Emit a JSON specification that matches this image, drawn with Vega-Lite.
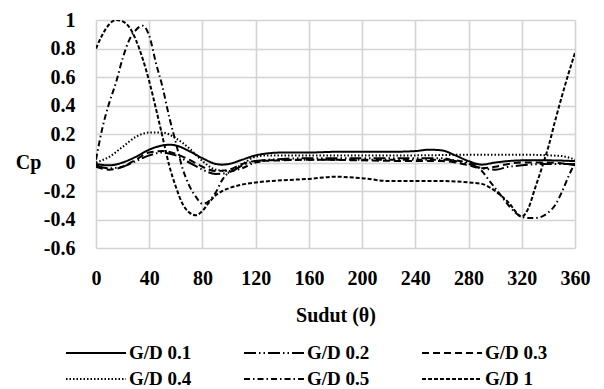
{
  "$schema": "https://vega.github.io/schema/vega-lite/v6.json",
  "width": 479,
  "height": 228,
  "autosize": "none",
  "padding": {"left": 96, "top": 20, "right": 29, "bottom": 141},
  "background": "white",
  "config": {
    "view": {"stroke": null},
    "font": "Liberation Serif",
    "axis": {"labelFont": "Liberation Serif", "titleFont": "Liberation Serif", "labelFontWeight": "bold", "titleFontWeight": "bold", "labelColor": "black", "titleColor": "black", "labelFontSize": 20, "titleFontSize": 20, "gridColor": "#d4d4d4", "gridWidth": 1.6, "domain": false, "ticks": false, "labelFlush": false, "labelOverlap": false},
    "legend": {"labelFont": "Liberation Serif", "labelFontWeight": "bold", "labelFontSize": 19, "labelColor": "black"}
  },
  "data": {"values": [
    {"s":"G/D 0.1","x":0,"y":-0.01},{"s":"G/D 0.1","x":10,"y":-0.02},{"s":"G/D 0.1","x":20,"y":0.0},{"s":"G/D 0.1","x":30,"y":0.04},{"s":"G/D 0.1","x":40,"y":0.09},{"s":"G/D 0.1","x":50,"y":0.12},{"s":"G/D 0.1","x":55,"y":0.125},{"s":"G/D 0.1","x":60,"y":0.12},{"s":"G/D 0.1","x":70,"y":0.08},{"s":"G/D 0.1","x":80,"y":0.03},{"s":"G/D 0.1","x":90,"y":-0.01},{"s":"G/D 0.1","x":95,"y":-0.015},{"s":"G/D 0.1","x":100,"y":-0.01},{"s":"G/D 0.1","x":110,"y":0.02},{"s":"G/D 0.1","x":120,"y":0.05},{"s":"G/D 0.1","x":130,"y":0.065},{"s":"G/D 0.1","x":140,"y":0.07},{"s":"G/D 0.1","x":160,"y":0.07},{"s":"G/D 0.1","x":180,"y":0.075},{"s":"G/D 0.1","x":200,"y":0.075},{"s":"G/D 0.1","x":220,"y":0.075},{"s":"G/D 0.1","x":240,"y":0.08},{"s":"G/D 0.1","x":250,"y":0.09},{"s":"G/D 0.1","x":260,"y":0.085},{"s":"G/D 0.1","x":270,"y":0.05},{"s":"G/D 0.1","x":280,"y":0.01},{"s":"G/D 0.1","x":290,"y":-0.015},{"s":"G/D 0.1","x":300,"y":0.0},{"s":"G/D 0.1","x":310,"y":0.01},{"s":"G/D 0.1","x":320,"y":0.015},{"s":"G/D 0.1","x":340,"y":0.015},{"s":"G/D 0.1","x":360,"y":0.01},

    {"s":"G/D 0.2","x":0,"y":-0.02},{"s":"G/D 0.2","x":10,"y":-0.04},{"s":"G/D 0.2","x":20,"y":-0.03},{"s":"G/D 0.2","x":30,"y":0.01},{"s":"G/D 0.2","x":40,"y":0.05},{"s":"G/D 0.2","x":50,"y":0.07},{"s":"G/D 0.2","x":60,"y":0.05},{"s":"G/D 0.2","x":70,"y":0.0},{"s":"G/D 0.2","x":80,"y":-0.05},{"s":"G/D 0.2","x":90,"y":-0.08},{"s":"G/D 0.2","x":100,"y":-0.07},{"s":"G/D 0.2","x":110,"y":-0.02},{"s":"G/D 0.2","x":120,"y":0.01},{"s":"G/D 0.2","x":140,"y":0.025},{"s":"G/D 0.2","x":160,"y":0.03},{"s":"G/D 0.2","x":200,"y":0.03},{"s":"G/D 0.2","x":240,"y":0.03},{"s":"G/D 0.2","x":260,"y":0.03},{"s":"G/D 0.2","x":270,"y":0.01},{"s":"G/D 0.2","x":280,"y":-0.01},{"s":"G/D 0.2","x":290,"y":-0.04},{"s":"G/D 0.2","x":300,"y":-0.05},{"s":"G/D 0.2","x":310,"y":-0.03},{"s":"G/D 0.2","x":320,"y":-0.02},{"s":"G/D 0.2","x":340,"y":-0.01},{"s":"G/D 0.2","x":360,"y":-0.01},

    {"s":"G/D 0.3","x":0,"y":-0.03},{"s":"G/D 0.3","x":10,"y":-0.05},{"s":"G/D 0.3","x":20,"y":-0.03},{"s":"G/D 0.3","x":30,"y":0.02},{"s":"G/D 0.3","x":40,"y":0.07},{"s":"G/D 0.3","x":50,"y":0.08},{"s":"G/D 0.3","x":60,"y":0.06},{"s":"G/D 0.3","x":70,"y":0.02},{"s":"G/D 0.3","x":80,"y":-0.03},{"s":"G/D 0.3","x":90,"y":-0.06},{"s":"G/D 0.3","x":100,"y":-0.05},{"s":"G/D 0.3","x":110,"y":-0.01},{"s":"G/D 0.3","x":120,"y":0.01},{"s":"G/D 0.3","x":140,"y":0.015},{"s":"G/D 0.3","x":160,"y":0.02},{"s":"G/D 0.3","x":200,"y":0.015},{"s":"G/D 0.3","x":240,"y":0.01},{"s":"G/D 0.3","x":260,"y":0.01},{"s":"G/D 0.3","x":270,"y":0.0},{"s":"G/D 0.3","x":280,"y":-0.02},{"s":"G/D 0.3","x":290,"y":-0.04},{"s":"G/D 0.3","x":300,"y":-0.03},{"s":"G/D 0.3","x":310,"y":-0.01},{"s":"G/D 0.3","x":320,"y":0.0},{"s":"G/D 0.3","x":340,"y":0.0},{"s":"G/D 0.3","x":360,"y":-0.02},

    {"s":"G/D 0.4","x":0,"y":0.0},{"s":"G/D 0.4","x":10,"y":0.04},{"s":"G/D 0.4","x":20,"y":0.11},{"s":"G/D 0.4","x":30,"y":0.18},{"s":"G/D 0.4","x":40,"y":0.21},{"s":"G/D 0.4","x":50,"y":0.21},{"s":"G/D 0.4","x":60,"y":0.17},{"s":"G/D 0.4","x":70,"y":0.1},{"s":"G/D 0.4","x":80,"y":0.01},{"s":"G/D 0.4","x":90,"y":-0.05},{"s":"G/D 0.4","x":100,"y":-0.06},{"s":"G/D 0.4","x":110,"y":-0.01},{"s":"G/D 0.4","x":120,"y":0.04},{"s":"G/D 0.4","x":130,"y":0.05},{"s":"G/D 0.4","x":160,"y":0.05},{"s":"G/D 0.4","x":200,"y":0.05},{"s":"G/D 0.4","x":240,"y":0.05},{"s":"G/D 0.4","x":280,"y":0.055},{"s":"G/D 0.4","x":320,"y":0.055},{"s":"G/D 0.4","x":340,"y":0.05},{"s":"G/D 0.4","x":350,"y":0.045},{"s":"G/D 0.4","x":360,"y":0.02},

    {"s":"G/D 0.5","x":0,"y":0.02},{"s":"G/D 0.5","x":5,"y":0.25},{"s":"G/D 0.5","x":10,"y":0.42},{"s":"G/D 0.5","x":15,"y":0.56},{"s":"G/D 0.5","x":20,"y":0.73},{"s":"G/D 0.5","x":25,"y":0.86},{"s":"G/D 0.5","x":30,"y":0.93},{"s":"G/D 0.5","x":35,"y":0.96},{"s":"G/D 0.5","x":40,"y":0.89},{"s":"G/D 0.5","x":45,"y":0.7},{"s":"G/D 0.5","x":50,"y":0.53},{"s":"G/D 0.5","x":55,"y":0.32},{"s":"G/D 0.5","x":60,"y":0.14},{"s":"G/D 0.5","x":65,"y":-0.04},{"s":"G/D 0.5","x":70,"y":-0.16},{"s":"G/D 0.5","x":75,"y":-0.24},{"s":"G/D 0.5","x":80,"y":-0.29},{"s":"G/D 0.5","x":85,"y":-0.27},{"s":"G/D 0.5","x":90,"y":-0.21},{"s":"G/D 0.5","x":95,"y":-0.12},{"s":"G/D 0.5","x":100,"y":-0.07},{"s":"G/D 0.5","x":110,"y":-0.04},{"s":"G/D 0.5","x":120,"y":0.0},{"s":"G/D 0.5","x":140,"y":0.02},{"s":"G/D 0.5","x":180,"y":0.02},{"s":"G/D 0.5","x":220,"y":0.02},{"s":"G/D 0.5","x":260,"y":0.02},{"s":"G/D 0.5","x":280,"y":0.0},{"s":"G/D 0.5","x":290,"y":-0.06},{"s":"G/D 0.5","x":295,"y":-0.12},{"s":"G/D 0.5","x":300,"y":-0.18},{"s":"G/D 0.5","x":305,"y":-0.24},{"s":"G/D 0.5","x":310,"y":-0.3},{"s":"G/D 0.5","x":315,"y":-0.35},{"s":"G/D 0.5","x":320,"y":-0.38},{"s":"G/D 0.5","x":325,"y":-0.39},{"s":"G/D 0.5","x":330,"y":-0.39},{"s":"G/D 0.5","x":335,"y":-0.38},{"s":"G/D 0.5","x":340,"y":-0.35},{"s":"G/D 0.5","x":345,"y":-0.3},{"s":"G/D 0.5","x":350,"y":-0.21},{"s":"G/D 0.5","x":355,"y":-0.1},{"s":"G/D 0.5","x":360,"y":0.0},

    {"s":"G/D 1","x":0,"y":0.8},{"s":"G/D 1","x":5,"y":0.9},{"s":"G/D 1","x":10,"y":0.97},{"s":"G/D 1","x":15,"y":1.0},{"s":"G/D 1","x":20,"y":0.99},{"s":"G/D 1","x":25,"y":0.95},{"s":"G/D 1","x":30,"y":0.86},{"s":"G/D 1","x":35,"y":0.73},{"s":"G/D 1","x":40,"y":0.57},{"s":"G/D 1","x":45,"y":0.38},{"s":"G/D 1","x":50,"y":0.18},{"s":"G/D 1","x":55,"y":-0.02},{"s":"G/D 1","x":60,"y":-0.17},{"s":"G/D 1","x":65,"y":-0.29},{"s":"G/D 1","x":70,"y":-0.35},{"s":"G/D 1","x":75,"y":-0.37},{"s":"G/D 1","x":80,"y":-0.34},{"s":"G/D 1","x":85,"y":-0.28},{"s":"G/D 1","x":90,"y":-0.23},{"s":"G/D 1","x":95,"y":-0.2},{"s":"G/D 1","x":100,"y":-0.18},{"s":"G/D 1","x":110,"y":-0.155},{"s":"G/D 1","x":120,"y":-0.14},{"s":"G/D 1","x":140,"y":-0.125},{"s":"G/D 1","x":160,"y":-0.115},{"s":"G/D 1","x":180,"y":-0.1},{"s":"G/D 1","x":200,"y":-0.11},{"s":"G/D 1","x":220,"y":-0.13},{"s":"G/D 1","x":240,"y":-0.13},{"s":"G/D 1","x":260,"y":-0.13},{"s":"G/D 1","x":280,"y":-0.14},{"s":"G/D 1","x":290,"y":-0.15},{"s":"G/D 1","x":300,"y":-0.2},{"s":"G/D 1","x":310,"y":-0.28},{"s":"G/D 1","x":320,"y":-0.38},{"s":"G/D 1","x":325,"y":-0.32},{"s":"G/D 1","x":330,"y":-0.18},{"s":"G/D 1","x":335,"y":-0.04},{"s":"G/D 1","x":340,"y":0.11},{"s":"G/D 1","x":345,"y":0.29},{"s":"G/D 1","x":350,"y":0.46},{"s":"G/D 1","x":355,"y":0.62},{"s":"G/D 1","x":360,"y":0.77}
  ]},
  "mark": {"type": "line", "interpolate": "monotone", "color": "black", "strokeWidth": 2, "clip": true},
  "encoding": {
    "x": {"field": "x", "type": "quantitative",
      "scale": {"domain": [0, 360], "nice": false, "zero": false},
      "axis": {"values": [0,40,80,120,160,200,240,280,320,360], "title": "Sudut (θ)", "labelPadding": 20, "titlePadding": 17}},
    "y": {"field": "y", "type": "quantitative",
      "scale": {"domain": [-0.6, 1], "nice": false, "zero": false},
      "axis": {"values": [-0.6,-0.4,-0.2,0,0.2,0.4,0.6,0.8,1], "labelExpr": "toString(round(datum.value*10)/10)", "labelPadding": 21, "title": "Cp", "titleAngle": 0, "titleX": -68, "titleY": 142, "titleAlign": "center", "titleBaseline": "middle"}},
    "strokeDash": {"field": "s", "type": "nominal",
      "scale": {"domain": ["G/D 0.1","G/D 0.2","G/D 0.3","G/D 0.4","G/D 0.5","G/D 1"],
        "range": [[1,0],[12,3,1.5,3,1.5,3],[7,4],[1.5,2],[6,3,1.5,3],[4,2]]},
      "legend": {"orient": "none", "legendX": -31, "legendY": 322, "columns": 3, "title": null, "symbolType": "M-1,0H5", "symbolSize": 400, "symbolStrokeWidth": 2, "symbolStrokeColor": "black", "labelOffset": 42, "columnPadding": 48, "rowPadding": 5, "direction": "horizontal"}}
  }
}
